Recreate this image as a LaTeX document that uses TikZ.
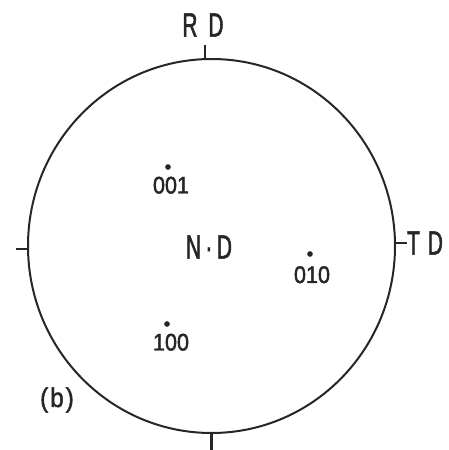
\documentclass[tikz,border=0pt]{standalone}
\usepackage{fontspec}
\usetikzlibrary{shapes.geometric}
\newfontfamily\letterfont[FakeStretch=0.62, FakeBold=1.6]{Liberation Sans}
\newfontfamily\digitfont[FakeStretch=0.9, FakeBold=1.6]{Liberation Sans}
\definecolor{ink}{gray}{0.15}

\begin{document}
\begin{tikzpicture}
    [x=1pt, y=-1pt,
     dot/.style={circle, fill=ink, inner sep=2pt},
     axis/.style={text=ink, inner sep=0pt, font=\letterfont\fontsize{33.5}{36}\selectfont},
     index/.style={text=ink, inner sep=0pt, font=\digitfont\fontsize{24}{26}\selectfont},
     panel/.style={text=ink, inner sep=0pt, font=\digitfont\fontsize{27}{29}\selectfont},
     tick/.style={draw=ink, line width=2.2pt}]
    \useasboundingbox (0,0) rectangle (449,450);

    % stereographic net
    \node (net) at (211.5,246) [draw=ink, line width=2pt, ellipse, inner sep=0pt,
        minimum width=367pt, minimum height=374pt] {};
    \draw[tick] (net.92) -- ++(0,-13);
    \draw[tick] (net.1) -- ++(11,0);
    \draw[tick] (net.181) -- ++(-11,0);
    \draw[tick] (net.south) -- ++(0,17);

    % sample axes
    \node (rd) at (203,25) [axis] {R\hspace{11pt}D};
    \node (td) at (425,243) [axis] {T\hspace{8pt}D};
    \node (nd) at (209,247) [axis] {N\hspace{4.5pt}·\hspace{4.5pt}D};

    % poles
    \node (p001) at (168,167) [dot, label={[index, xshift=3pt, label distance=6.5pt]below:001}] {};
    \node (p010) at (310,254) [dot, label={[index, xshift=2pt, label distance=9pt]below:010}] {};
    \node (p100) at (167,324) [dot, label={[index, xshift=4pt, label distance=6.5pt]below:100}] {};

    \node (tag) at (57,400) [panel] {(\hspace{2pt}b\hspace{2pt})};
\end{tikzpicture}
\end{document}
